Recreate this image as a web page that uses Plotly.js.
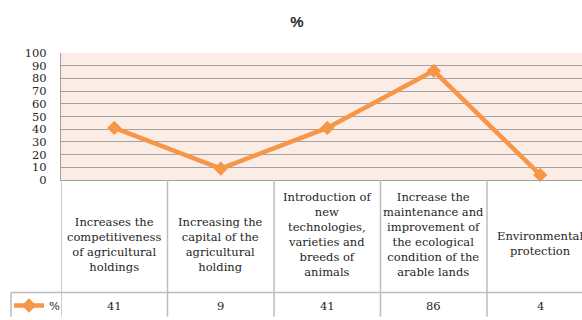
<!DOCTYPE html>
<html>
<head>
<meta charset="utf-8">
<script src="https://cdn.plot.ly/plotly-3.0.1.min.js"></script>
<style>html,body{margin:0;padding:0;background:#fff;}#chart{width:582px;height:320px;}</style>
</head>
<body>
<div id="chart"></div>
<script>
// ---- data ----
var categories = [
  "Increases the<br>competitiveness<br>of agricultural<br>holdings",
  "Increasing the<br>capital of the<br>agricultural<br>holding",
  "Introduction of<br>new<br>technologies,<br>varieties and<br>breeds of<br>animals",
  "Increase the<br>maintenance and<br>improvement of<br>the ecological<br>condition of the<br>arable lands",
  "Environmental<br>protection"
];
var seriesName = "%";
var values = [41, 9, 41, 86, 4];
var yTicks = [0, 10, 20, 30, 40, 50, 60, 70, 80, 90, 100];

// ---- layout geometry (pixels) ----
var W = 582, H = 320;
var plotLeft = 61, plotTop = 53, plotBottom = 184;
var valueRowTop = 300, legendCellLeft = 11;
var labelCenterPx = [251, 251, 240, 240, 250];
var valueRowCenterPx = 314;
var plotH = plotBottom - plotTop;
function py(p) { return (plotBottom - p) / plotH; } // pixel y -> paper y
var xIdx = categories.map(function (_, i) { return i; });

var serif = "DejaVu Serif";
var fs = 11.5;
var textCol = "#262626";
var tableLine = "#bdbdbd";

var shapes = [];
for (var i = 0; i <= categories.length; i++) {
  shapes.push({type: "line", xref: "x", yref: "paper", x0: i - 0.5, x1: i - 0.5,
    y0: 0, y1: py(H + 5), line: {color: tableLine, width: 1.5}});
}
shapes.push({type: "line", xref: "paper", yref: "paper", x0: (legendCellLeft - plotLeft) / (W - plotLeft), x1: 1.02,
  y0: py(valueRowTop), y1: py(valueRowTop), line: {color: tableLine, width: 1.5}});
shapes.push({type: "line", xref: "paper", yref: "paper",
  x0: (legendCellLeft - plotLeft) / (W - plotLeft), x1: (legendCellLeft - plotLeft) / (W - plotLeft),
  y0: py(valueRowTop), y1: py(H + 5), line: {color: tableLine, width: 1.5}});

var annotations = [];
categories.forEach(function (c, i) {
  annotations.push({x: i, xref: "x", y: py(labelCenterPx[i]), yref: "paper", text: c,
    showarrow: false, xanchor: "center", yanchor: "middle", align: "center",
    font: {family: serif, size: fs, color: textCol}});
  annotations.push({x: i, xref: "x", y: py(valueRowCenterPx), yref: "paper", text: String(values[i]),
    showarrow: false, xanchor: "center", yanchor: "middle",
    font: {family: serif, size: fs, color: textCol}});
});

var trace = {
  x: xIdx, y: values, name: seriesName, type: "scatter", mode: "lines+markers",
  line: {color: "#f79646", width: 4.5},
  marker: {symbol: "diamond", size: 11, color: "#f79646"},
  cliponaxis: false, showlegend: true
};

var layout = {
  width: W, height: H,
  font: {family: serif, size: fs, color: textCol},
  margin: {l: plotLeft, r: 0, t: plotTop, b: H - plotBottom, pad: 0},
  paper_bgcolor: "#ffffff",
  plot_bgcolor: "#fcece6",
  title: {text: "<b>%</b>", x: 297 / W, xref: "container", xanchor: "center",
    y: 1 - 22 / H, yref: "container", yanchor: "middle",
    font: {family: "Liberation Sans", size: 15, color: "#262626"}},
  xaxis: {range: [-0.5, -0.5 + (W - plotLeft) / 106.5], showgrid: false, zeroline: false,
    showticklabels: false, ticks: "", showline: true, linecolor: "#a0a0a0", linewidth: 1, fixedrange: true},
  yaxis: {range: [0, 100], tickvals: yTicks, ticktext: yTicks.map(String),
    showgrid: true, gridcolor: "#a3a3a3", gridwidth: 1, zeroline: false,
    showline: true, linecolor: "#a0a0a0", linewidth: 1,
    ticks: "outside", ticklen: 11, tickcolor: "rgba(0,0,0,0)",
    tickfont: {family: serif, size: fs, color: textCol}, fixedrange: true},
  showlegend: true,
  legend: {x: (9 - plotLeft) / (W - plotLeft), xanchor: "left", y: py(valueRowCenterPx), yanchor: "middle",
    bgcolor: "rgba(0,0,0,0)", borderwidth: 0, itemwidth: 30,
    font: {family: serif, size: fs, color: textCol}},
  shapes: shapes,
  annotations: annotations
};

Plotly.newPlot("chart", [trace], layout, {displayModeBar: false, staticPlot: true});
</script>
</body>
</html>
